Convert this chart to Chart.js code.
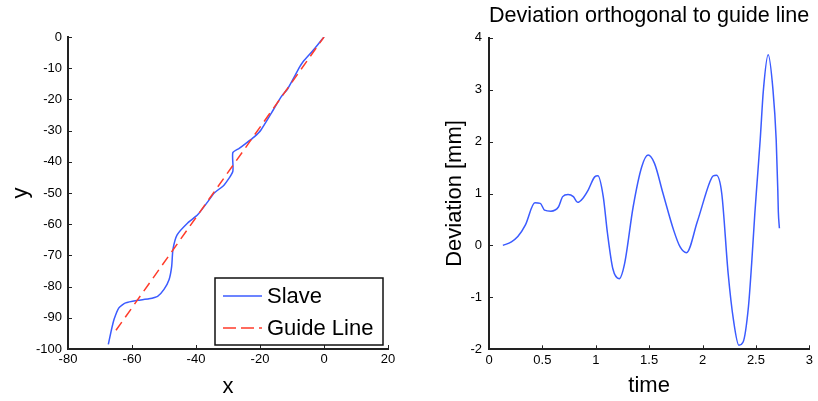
<!DOCTYPE html>
<html>
<head>
<meta charset="utf-8">
<script src="https://cdn.jsdelivr.net/npm/chart.js@4/dist/chart.umd.min.js"></script>
<style>
  html, body { margin: 0; padding: 0; background: #fff; }
  #wrap { position: relative; width: 818px; height: 401px; }
  canvas { position: absolute; top: 0; }
</style>
</head>
<body>
<div id="wrap">
  <canvas id="pathChart" width="409" height="401" style="left:0"></canvas>
  <canvas id="devChart" width="409" height="401" style="left:409px"></canvas>
</div>
<script>
// left plot: path of the slave vs the guide line
const slaveX = [-67.4, -66.5, -65.6, -64.1, -62, -58.3, -54.7, -52, -50, -48.4, -47.6, -47.2, -45.9, -42.6, -39.5, -35.9, -34.3, -31.2, -28.5, -28.5, -26.5, -24.4, -21.8, -19.7, -16.5, -13.4, -11.3, -7.6, -6.6, -2.9, 0];
const slaveY = [-98.5, -94.2, -90.5, -86.8, -85.2, -84.4, -83.9, -83.1, -80.9, -77.7, -73.5, -68.1, -63.4, -59.6, -57, -52.2, -50, -47.4, -43.1, -37.1, -35.7, -34.1, -32, -29.8, -24.5, -19.2, -16.5, -9.6, -8.0, -3.7, 0];
const guideX = [-65, 0];
const guideY = [-94, 0];

// right plot: deviation over time
const time = [0.13, 0.21, 0.27, 0.34, 0.43, 0.48, 0.52, 0.58, 0.65, 0.69, 0.74, 0.79, 0.83, 0.88, 0.93, 0.99, 1.02, 1.07, 1.11, 1.16, 1.22, 1.27, 1.35, 1.43, 1.49, 1.55, 1.63, 1.73, 1.79, 1.85, 1.95, 2.07, 2.10, 2.13, 2.18, 2.24, 2.29, 2.34, 2.38, 2.43, 2.46, 2.49, 2.51, 2.54, 2.57, 2.615, 2.66, 2.69, 2.705, 2.71, 2.72];
const deviation = [0.0, 0.07, 0.17, 0.39, 0.82, 0.81, 0.68, 0.66, 0.74, 0.94, 0.98, 0.94, 0.83, 0.91, 1.07, 1.32, 1.34, 0.94, 0.23, -0.45, -0.64, -0.35, 0.74, 1.51, 1.74, 1.58, 1.00, 0.29, -0.03, -0.14, 0.45, 1.23, 1.34, 1.35, 1.0, -0.54, -1.44, -1.92, -1.86, -1.18, -0.35, 0.62, 1.19, 2.03, 2.99, 3.67, 2.99, 2.03, 1.07, 0.65, 0.33];

const blue = "#3b5bff";
const red = "#ff3b2a";
const font = "'Liberation Sans', Arial, sans-serif";

function toPoints(xs, ys) {
  return xs.map((x, i) => ({ x: x, y: ys[i] }));
}

// matlab style tick marks pointing into the plot
const inwardTicks = {
  id: "inwardTicks",
  afterDraw(chart) {
    const { ctx, chartArea, scales } = chart;
    ctx.save();
    ctx.strokeStyle = "#222";
    ctx.lineWidth = 1;
    ctx.beginPath();
    scales.x.ticks.forEach(t => {
      const px = Math.round(scales.x.getPixelForValue(t.value)) + 0.5;
      ctx.moveTo(px, chartArea.bottom);
      ctx.lineTo(px, chartArea.bottom - 4);
    });
    scales.y.ticks.forEach(t => {
      const py = Math.round(scales.y.getPixelForValue(t.value)) + 0.5;
      ctx.moveTo(chartArea.left, py);
      ctx.lineTo(chartArea.left + 4, py);
    });
    ctx.stroke();
    ctx.restore();
  }
};

// boxed legend in the lower right of the path plot
const boxLegend = {
  id: "boxLegend",
  afterDraw(chart) {
    const { ctx, chartArea } = chart;
    const right = chartArea.right - 5, bottom = chartArea.bottom - 4;
    const w = 168, h = 67;
    const left = right - w, top = bottom - h;
    ctx.save();
    ctx.fillStyle = "#fff";
    ctx.fillRect(left, top, w, h);
    ctx.strokeStyle = "#111";
    ctx.lineWidth = 1.5;
    ctx.strokeRect(left, top, w, h);
    const rows = [
      { label: chart.data.datasets[1].label, color: blue, dash: [], y: top + 18 },
      { label: chart.data.datasets[0].label, color: red, dash: [13, 5], y: top + 50 }
    ];
    ctx.font = "22px " + font;
    ctx.textBaseline = "middle";
    rows.forEach(r => {
      ctx.strokeStyle = r.color;
      ctx.lineWidth = 1.5;
      ctx.setLineDash(r.dash);
      ctx.beginPath();
      ctx.moveTo(left + 8, r.y);
      ctx.lineTo(left + 47, r.y);
      ctx.stroke();
      ctx.setLineDash([]);
      ctx.fillStyle = "#000";
      ctx.fillText(r.label, left + 52, r.y + 1);
    });
    ctx.restore();
  }
};

function axis(min, max, step, titleText, titlePad, tickPad, fit) {
  return {
    type: "linear",
    min: min,
    max: max,
    ticks: {
      stepSize: step,
      color: "#000",
      font: { family: font, size: 13 },
      padding: tickPad,
      maxRotation: 0,
      callback: v => String(v)
    },
    grid: { display: false, drawTicks: false, tickLength: 0 },
    border: { display: true, color: "#222", width: 2 },
    title: { display: true, text: titleText, color: "#000", font: { family: font, size: 22 }, padding: titlePad },
    afterFit: fit
  };
}

new Chart(document.getElementById("pathChart"), {
  type: "scatter",
  data: {
    datasets: [
      {
        label: "Guide Line",
        data: toPoints(guideX, guideY),
        showLine: true,
        borderColor: red,
        borderWidth: 1.5,
        borderDash: [10, 6],
        pointRadius: 0,
        order: 0
      },
      {
        label: "Slave",
        data: toPoints(slaveX, slaveY),
        showLine: true,
        borderColor: blue,
        borderWidth: 1.5,
        pointRadius: 0,
        tension: 0.2,
        order: 1
      }
    ]
  },
  options: {
    responsive: false,
    animation: false,
    layout: { padding: { top: 37, right: 21, left: 0, bottom: 0 } },
    plugins: { legend: { display: false }, tooltip: { enabled: false } },
    scales: {
      x: axis(-80, 20, 20, "x", { top: 0, bottom: 1 }, 3, s => { s.height = 52; }),
      y: axis(-100, 0, 10, "y", { top: 8, bottom: 0 }, 6, s => { s.width = 68; })
    }
  },
  plugins: [inwardTicks, boxLegend]
});

new Chart(document.getElementById("devChart"), {
  type: "scatter",
  data: {
    datasets: [{
      label: "Deviation",
      data: toPoints(time, deviation),
      showLine: true,
      borderColor: blue,
      borderWidth: 1.5,
      pointRadius: 0,
      cubicInterpolationMode: "monotone"
    }]
  },
  options: {
    responsive: false,
    animation: false,
    layout: { padding: { top: 0, right: 8.7, left: 0, bottom: 0 } },
    plugins: {
      legend: { display: false },
      tooltip: { enabled: false },
      title: {
        display: true,
        text: "Deviation orthogonal to guide line",
        color: "#000",
        fullSize: false,
        font: { family: font, size: 22, weight: "normal" },
        padding: { top: 3, bottom: 8.3 }
      }
    },
    scales: {
      x: axis(0, 3, 0.5, "time", { top: 0, bottom: 2 }, 3, s => { s.height = 51.7; }),
      y: axis(-2, 4, 1, "Deviation [mm]", { top: 33, bottom: 0 }, 7, s => { s.width = 80; })
    }
  },
  plugins: [inwardTicks]
});
</script>
</body>
</html>
